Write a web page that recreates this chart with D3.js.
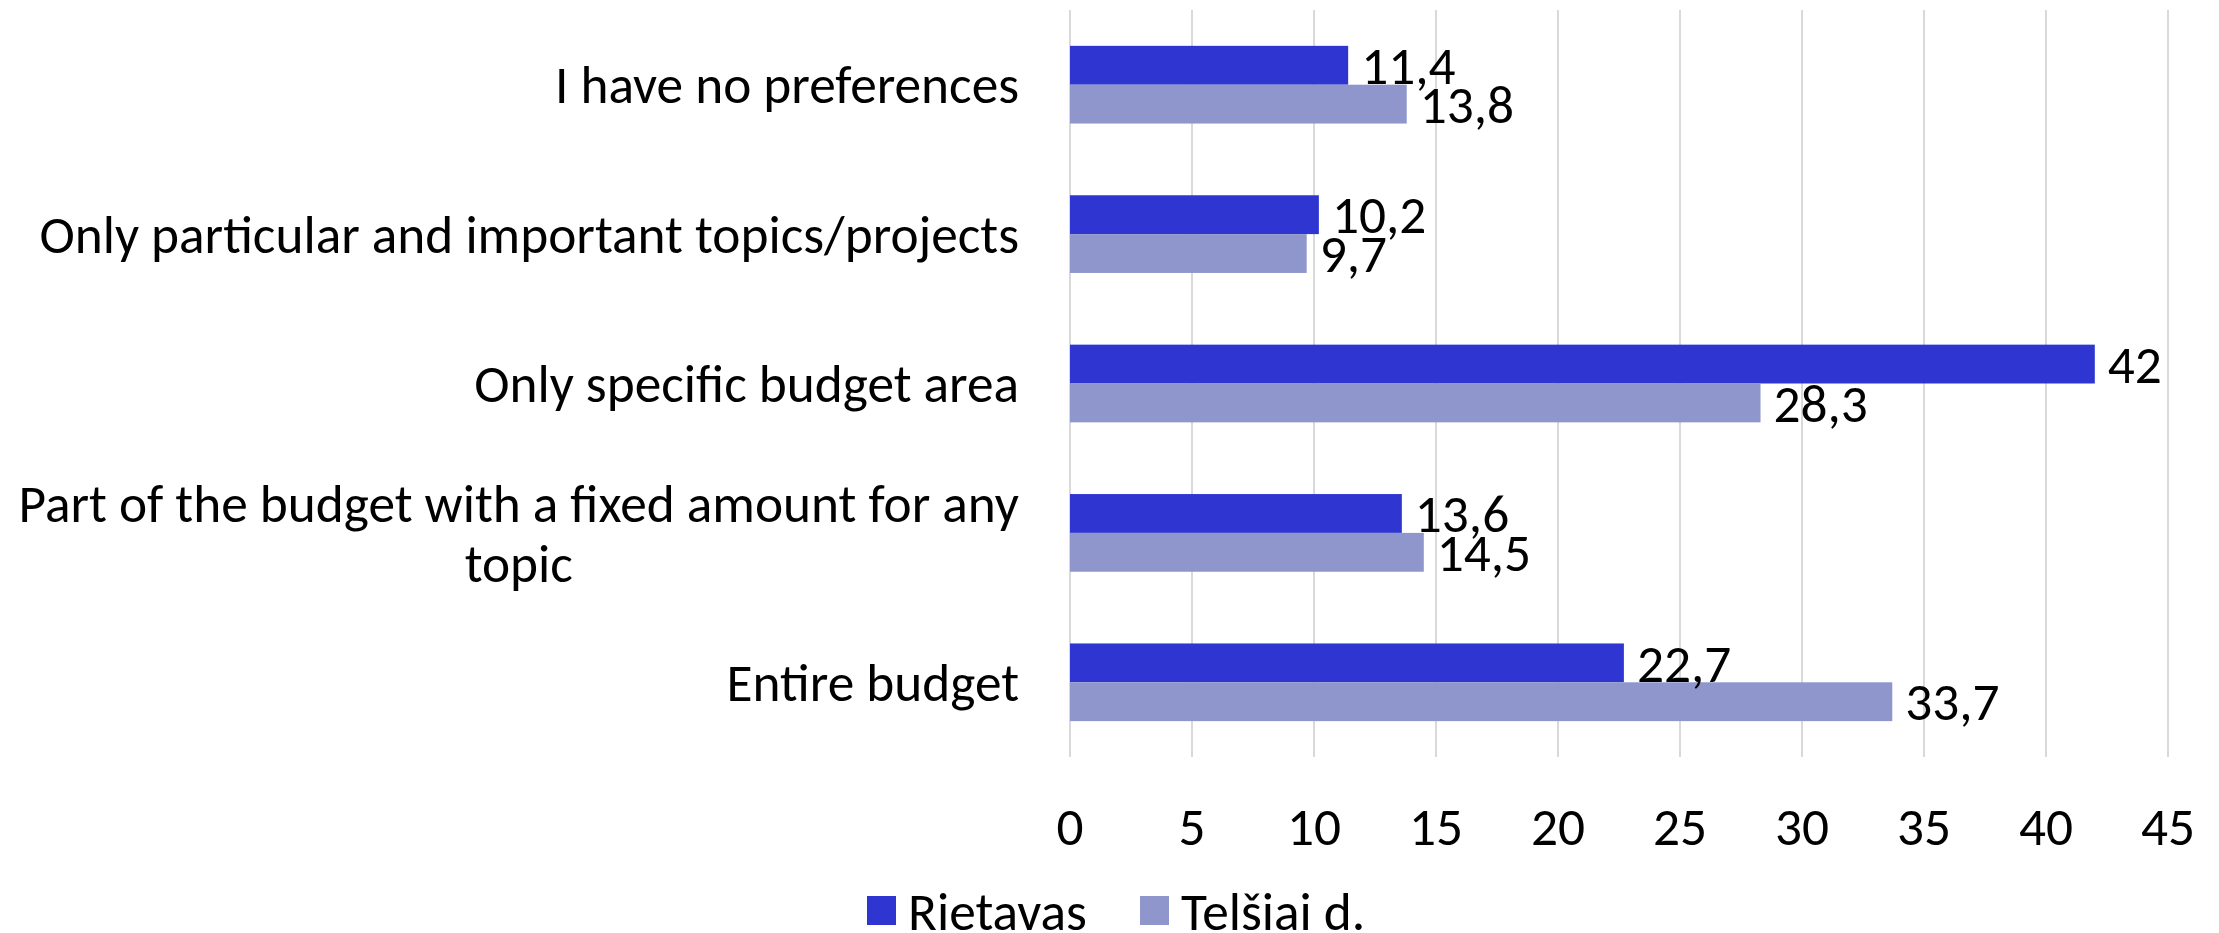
<!DOCTYPE html>
<html>
<head>
<meta charset="utf-8">
<script src="https://cdn.jsdelivr.net/npm/d3@7"></script>
<style>
  body { margin: 0; background: #fff; }
  svg { display: block; }
</style>
</head>
<body>
<div id="container"></div>
<script>
// Data
const categories = [
  "I have no preferences",
  "Only particular and important topics/projects",
  "Only specific budget area",
  "Part of the budget with a fixed amount for any topic",
  "Entire budget"
];
const seriesNames = ["Rietavas", "Telšiai d."];
const rietavas = [11.4, 10.2, 42, 13.6, 22.7];
const telsiai = [13.8, 9.7, 28.3, 14.5, 33.7];
const xTicks = [0, 5, 10, 15, 20, 25, 30, 35, 40, 45];

// Chart dimensions
const width = 2219;
const height = 933;
const marginTop = 10;
const marginLeft = 1070;
const marginRight = 51;
const plotBottom = 757;
const colors = ["#2E35D0", "#8E96CB"];
const fontFamily = "Carlito, Calibri, Lato, 'Open Sans', sans-serif";

const svg = d3.create("svg").attr("width", width).attr("height", height);
document.getElementById("container").append(svg.node());

// Size the font so the longest single-line label fills the same width as the original
const probe = svg.append("text")
  .attr("font-family", fontFamily)
  .attr("font-size", 52)
  .text(categories[1]);
const fontSize = 52 * 980 / probe.node().getComputedTextLength();
probe.remove();

const x = d3.scaleLinear()
  .domain([0, 45])
  .range([marginLeft, width - marginRight]);

const y = d3.scaleBand()
  .domain(categories)
  .range([marginTop, plotBottom])
  .paddingInner(0.48)
  .paddingOuter(0.24);

const ySub = d3.scaleBand()
  .domain(seriesNames)
  .range([0, y.bandwidth()]);

const locale = d3.formatLocale({ decimal: ",", thousands: " ", grouping: [3], currency: ["", ""] });
const fmt = locale.format("~g");

// Gridlines
svg.append("g")
  .selectAll("line")
  .data(xTicks)
  .join("line")
  .attr("x1", d => x(d))
  .attr("x2", d => x(d))
  .attr("y1", marginTop)
  .attr("y2", plotBottom)
  .attr("stroke", "#d9d9d9")
  .attr("stroke-width", 2);

// Bars
const rows = categories.map((c, i) => ({ cat: c, values: [rietavas[i], telsiai[i]] }));

const groups = svg.append("g")
  .selectAll("g")
  .data(rows)
  .join("g")
  .attr("transform", d => `translate(0,${y(d.cat)})`);

groups.selectAll("rect")
  .data(d => d.values.map((v, j) => ({ name: seriesNames[j], value: v, j })))
  .join("rect")
  .attr("x", x(0))
  .attr("y", d => ySub(d.name))
  .attr("width", d => x(d.value) - x(0))
  .attr("height", ySub.bandwidth())
  .attr("fill", d => colors[d.j]);

// Value labels
groups.selectAll("text")
  .data(d => d.values.map((v, j) => ({ name: seriesNames[j], value: v })))
  .join("text")
  .attr("x", d => x(d.value) + 13)
  .attr("y", d => ySub(d.name) + ySub.bandwidth() / 2)
  .attr("dy", "0.35em")
  .attr("font-family", fontFamily)
  .attr("font-size", fontSize)
  .attr("fill", "#000")
  .text(d => fmt(d.value));

// X axis tick labels
svg.append("g")
  .selectAll("text")
  .data(xTicks)
  .join("text")
  .attr("x", d => x(d))
  .attr("y", 826)
  .attr("dy", "0.35em")
  .attr("text-anchor", "middle")
  .attr("font-family", fontFamily)
  .attr("font-size", fontSize)
  .attr("fill", "#000")
  .text(d => d);

// Category labels, wrapped like the original
const labelRight = 1019;
const maxLabelWidth = 1030;
const lineHeight = 60;

const catLabels = svg.append("g")
  .selectAll("text")
  .data(categories)
  .join("text")
  .attr("font-family", fontFamily)
  .attr("font-size", fontSize)
  .attr("fill", "#000")
  .attr("text-anchor", "middle");

catLabels.each(function (d) {
  const text = d3.select(this);
  const words = d.split(" ");
  const lines = [];
  let line = [];
  const tmp = text.append("tspan");
  words.forEach(w => {
    line.push(w);
    tmp.text(line.join(" "));
    if (tmp.node().getComputedTextLength() > maxLabelWidth && line.length > 1) {
      line.pop();
      lines.push(line.join(" "));
      line = [w];
    }
  });
  lines.push(line.join(" "));
  tmp.remove();

  // widest line sets the block, lines centred within it
  const widths = lines.map(l => {
    const t = text.append("tspan").text(l);
    const w = t.node().getComputedTextLength();
    t.remove();
    return w;
  });
  const blockW = d3.max(widths);
  const cx = labelRight - blockW / 2;
  const cy = y(d) + y.bandwidth() / 2;
  lines.forEach((l, i) => {
    text.append("tspan")
      .attr("x", cx)
      .attr("y", cy + (i - (lines.length - 1) / 2) * lineHeight)
      .attr("dy", "0.35em")
      .text(l);
  });
});

// Legend
const legendItems = [
  { name: seriesNames[0], color: colors[0], x: 867 },
  { name: seriesNames[1], color: colors[1], x: 1140 }
];
const legend = svg.append("g")
  .selectAll("g")
  .data(legendItems)
  .join("g")
  .attr("transform", d => `translate(${d.x},896)`);

legend.append("rect")
  .attr("width", 29)
  .attr("height", 29)
  .attr("fill", d => d.color);

legend.append("text")
  .attr("x", 41)
  .attr("y", 15)
  .attr("dy", "0.35em")
  .attr("font-family", fontFamily)
  .attr("font-size", fontSize)
  .attr("fill", "#000")
  .text(d => d.name);
</script>
</body>
</html>
